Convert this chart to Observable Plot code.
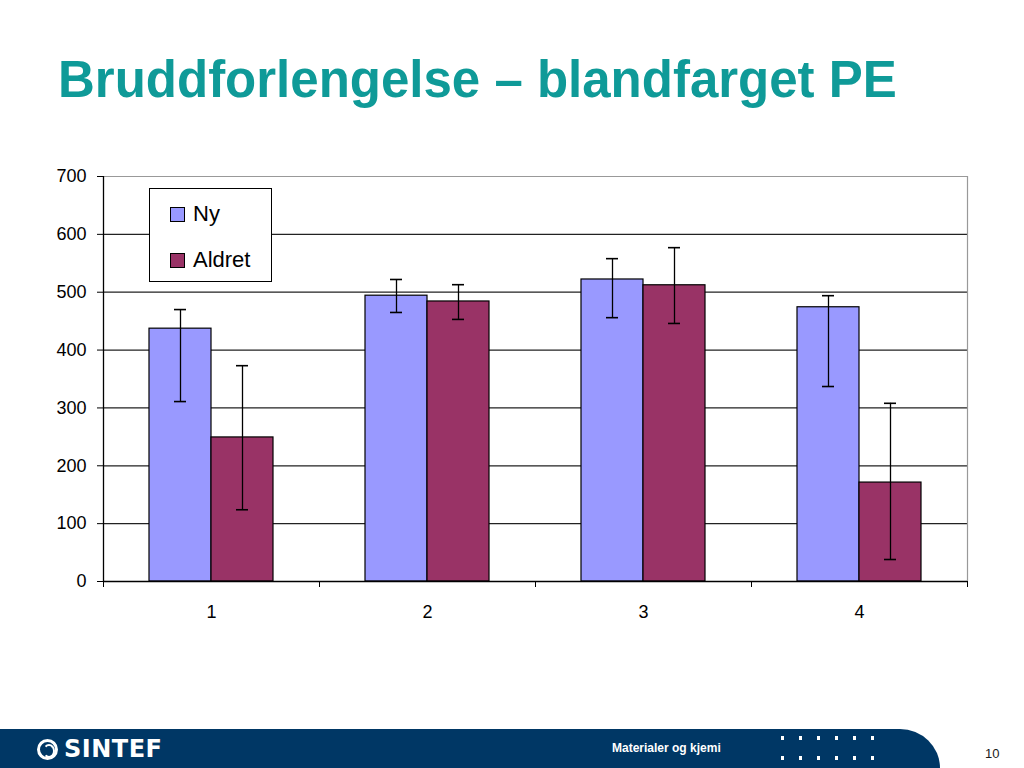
<!DOCTYPE html>
<html>
<head>
<meta charset="utf-8">
<script src="https://cdn.jsdelivr.net/npm/d3@7"></script>
<script src="https://cdn.jsdelivr.net/npm/@observablehq/plot@0.6"></script>
<style>
  html, body { margin: 0; padding: 0; background: #fff; }
  #page { position: relative; width: 1024px; height: 768px; overflow: hidden; font-family: "Liberation Sans", Arial, sans-serif; }
  #title { position: absolute; left: 58px; top: 54px; font-size: 51px; font-weight: bold; color: #0f9a98; white-space: nowrap; line-height: 1; }
  #chart { position: absolute; left: 0; top: 150px; }
  #legend { position: absolute; left: 149px; top: 188px; width: 121px; height: 92px; border: 1px solid #000; background: #fff; box-sizing: content-box; }
  .li { position: absolute; left: 20px; font-size: 22px; color: #000; display: flex; align-items: center; }
  .sw { width: 13px; height: 13px; border: 1px solid #000; margin-right: 8px; }
  #footer { position: absolute; left: 0; top: 729px; width: 1024px; height: 39px; }
  #footer .band { position: absolute; left: 0; top: 0; width: 940px; height: 39px; background: #003765; border-top-right-radius: 40px 39px; }
  #logo { position: absolute; left: 37px; top: 6px; color: #fff; font-weight: bold; font-size: 24px; display: flex; align-items: center; font-family: "DejaVu Sans", sans-serif; letter-spacing: 0.5px; }
  #logo .ring { width: 21px; height: 21px; border: 3px solid #fff; border-radius: 50%; margin-right: 6px; position: relative; box-sizing: border-box; }
  #logo .ring::after { content: ""; position: absolute; left: 3px; top: 2px; width: 8px; height: 10px; border: 2px solid #fff; border-radius: 50%; border-left-color: transparent; }
  #dept { position: absolute; left: 612px; top: 12px; color: #fff; font-size: 12px; font-weight: bold; }
  .dots { position: absolute; left: 781px; display: flex; gap: 15px; }
  .dots span { width: 3px; height: 4px; background: #fff; display: block; }
  #pagenum { position: absolute; left: 985px; top: 17px; font-size: 13px; color: #1a1a1a; }
</style>
</head>
<body>
<div id="page">
  <div id="title">Bruddforlengelse – blandfarget PE</div>
  <div id="chart"></div>
  <div id="legend"></div>
  <div id="footer">
    <div class="band"></div>
    <div id="logo"><div class="ring"></div>SINTEF</div>
    <div id="dept">Materialer og kjemi</div>
    <div class="dots" style="top:7px"><span></span><span></span><span></span><span></span><span></span><span></span></div>
    <div class="dots" style="top:27px"><span></span><span></span><span></span><span></span><span></span><span></span></div>
    <div id="pagenum">10</div>
  </div>
</div>
<script>
// Data
const groups = [1, 2, 3, 4];
const series = ["Ny", "Aldret"];
const colors = ["#9999ff", "#993366"];
const nyMean = [437, 494, 522, 474];
const nyLow = [311, 465, 456, 337];
const nyHigh = [470, 522, 558, 494];
const aldretMean = [249, 484, 512, 171];
const aldretLow = [124, 453, 446, 38];
const aldretHigh = [373, 513, 577, 308];
const yTicks = [0, 100, 200, 300, 400, 500, 600, 700];

const ny = groups.map((g, i) => ({g, v: nyMean[i], lo: nyLow[i], hi: nyHigh[i]}));
const al = groups.map((g, i) => ({g, v: aldretMean[i], lo: aldretLow[i], hi: aldretHigh[i]}));
const edges = [0.5, 1.5, 2.5, 3.5, 4.5];

const half = 31; // half bar width in px (style)
const chart = Plot.plot({
  width: 1024,
  height: 480,
  marginLeft: 103,
  marginRight: 57,
  marginTop: 26,
  marginBottom: 49,
  style: {fontFamily: "Liberation Sans, Arial, sans-serif", fontSize: "18px", color: "#000", background: "transparent"},
  x: {domain: [0.5, 4.5], axis: null},
  y: {domain: [0, 700], axis: null},
  marks: [
    Plot.ruleY(yTicks.filter(t => t > 0 && t < 700), {stroke: "#222", strokeWidth: 1.2}),
    Plot.ruleY([700], {stroke: "#999", strokeWidth: 1.2}),
    Plot.ruleX([4.5], {stroke: "#999", strokeWidth: 1.2}),
    Plot.rectY(ny, {x1: d => d.g - 0.5, x2: d => d.g + 0.5, y1: 0, y2: "v", insetLeft: 46, insetRight: 108, fill: colors[0], stroke: "#000", strokeWidth: 1.2}),
    Plot.rectY(al, {x1: d => d.g - 0.5, x2: d => d.g + 0.5, y1: 0, y2: "v", insetLeft: 108, insetRight: 46, fill: colors[1], stroke: "#000", strokeWidth: 1.2}),
    Plot.ruleX(ny, {x: "g", y1: "lo", y2: "hi", dx: -half, stroke: "#000", strokeWidth: 1.3}),
    Plot.ruleX(al, {x: "g", y1: "lo", y2: "hi", dx: half, stroke: "#000", strokeWidth: 1.3}),
    Plot.ruleY(ny, {y: "hi", x1: "g", x2: "g", insetLeft: -6, insetRight: -6, dx: -half, stroke: "#000", strokeWidth: 1.6}),
    Plot.ruleY(ny, {y: "lo", x1: "g", x2: "g", insetLeft: -6, insetRight: -6, dx: -half, stroke: "#000", strokeWidth: 1.6}),
    Plot.ruleY(al, {y: "hi", x1: "g", x2: "g", insetLeft: -6, insetRight: -6, dx: half, stroke: "#000", strokeWidth: 1.6}),
    Plot.ruleY(al, {y: "lo", x1: "g", x2: "g", insetLeft: -6, insetRight: -6, dx: half, stroke: "#000", strokeWidth: 1.6}),
    Plot.ruleY([0], {stroke: "#000", strokeWidth: 1.3}),
    Plot.ruleX([0.5], {stroke: "#000", strokeWidth: 1.3}),
    Plot.axisY({ticks: yTicks, tickSize: 6, tickPadding: 11, tickFormat: d => d, fontSize: 18, stroke: "#000", label: null}),
    Plot.axisX({ticks: edges, tickSize: 6, tickFormat: () => "", stroke: "#000", label: null}),
    Plot.axisX({ticks: groups, tickSize: 0, tickPadding: 24, tickFormat: d => d, fontSize: 18, label: null})
  ]
});
document.getElementById("chart").appendChild(chart);

// Legend
const legend = document.getElementById("legend");
series.forEach((s, i) => {
  const item = document.createElement("div");
  item.className = "li";
  item.style.top = (i === 0 ? 12 : 58) + "px";
  const sw = document.createElement("div");
  sw.className = "sw";
  sw.style.background = colors[i];
  item.appendChild(sw);
  item.appendChild(document.createTextNode(s));
  legend.appendChild(item);
});
</script>
</body>
</html>
